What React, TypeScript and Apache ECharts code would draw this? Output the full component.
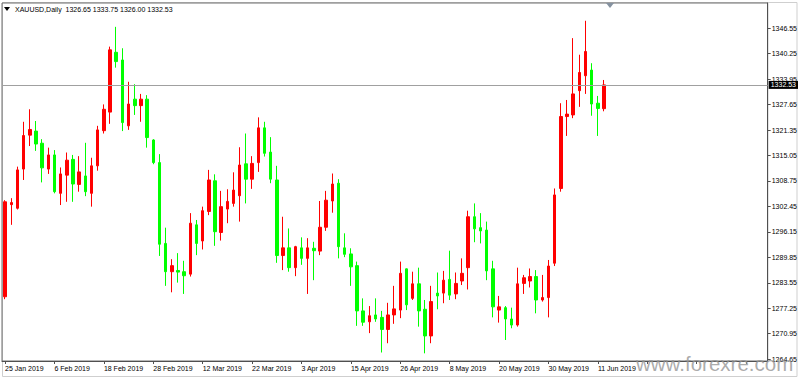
import React, { useEffect, useRef } from 'react';
import * as echarts from 'echarts';

const FONT = '"Liberation Sans", Arial, sans-serif';
const FS = 7;

const symbolTitle = 'XAUUSD,Daily';

const dates = [
  '25 Jan 2019', '28 Jan 2019', '29 Jan 2019', '30 Jan 2019', '31 Jan 2019', '1 Feb 2019', '4 Feb 2019', '5 Feb 2019',
  '6 Feb 2019', '7 Feb 2019', '8 Feb 2019', '11 Feb 2019', '12 Feb 2019', '13 Feb 2019', '14 Feb 2019', '15 Feb 2019',
  '18 Feb 2019', '19 Feb 2019', '20 Feb 2019', '21 Feb 2019', '22 Feb 2019', '25 Feb 2019', '26 Feb 2019', '27 Feb 2019',
  '28 Feb 2019', '1 Mar 2019', '4 Mar 2019', '5 Mar 2019', '6 Mar 2019', '7 Mar 2019', '8 Mar 2019', '11 Mar 2019',
  '12 Mar 2019', '13 Mar 2019', '14 Mar 2019', '15 Mar 2019', '18 Mar 2019', '19 Mar 2019', '20 Mar 2019', '21 Mar 2019',
  '22 Mar 2019', '25 Mar 2019', '26 Mar 2019', '27 Mar 2019', '28 Mar 2019', '29 Mar 2019', '1 Apr 2019', '2 Apr 2019',
  '3 Apr 2019', '4 Apr 2019', '5 Apr 2019', '8 Apr 2019', '9 Apr 2019', '10 Apr 2019', '11 Apr 2019', '12 Apr 2019',
  '15 Apr 2019', '16 Apr 2019', '17 Apr 2019', '18 Apr 2019', '22 Apr 2019', '23 Apr 2019', '24 Apr 2019', '25 Apr 2019',
  '26 Apr 2019', '29 Apr 2019', '30 Apr 2019', '1 May 2019', '2 May 2019', '3 May 2019', '6 May 2019', '7 May 2019',
  '8 May 2019', '9 May 2019', '10 May 2019', '13 May 2019', '14 May 2019', '15 May 2019', '16 May 2019', '17 May 2019',
  '20 May 2019', '21 May 2019', '22 May 2019', '23 May 2019', '24 May 2019', '27 May 2019', '28 May 2019', '29 May 2019',
  '30 May 2019', '31 May 2019', '3 Jun 2019', '4 Jun 2019', '5 Jun 2019', '6 Jun 2019', '7 Jun 2019', '10 Jun 2019',
  '11 Jun 2019', '12 Jun 2019',
];

const opens = [
  1280.1, 1302.9, 1302.0, 1311.7, 1320.1, 1321.1, 1318.1, 1311.7, 1315.2, 1305.7,
  1310.2, 1314.1, 1307.9, 1310.0, 1305.7, 1312.5, 1321.2, 1325.8, 1340.6, 1338.7,
  1322.4, 1329.0, 1327.4, 1329.0, 1318.9, 1313.3, 1293.3, 1286.3, 1286.6, 1286.3,
  1285.7, 1297.9, 1293.9, 1301.2, 1308.8, 1296.0, 1301.8, 1303.2, 1305.1, 1313.0,
  1309.2, 1313.3, 1321.9, 1315.9, 1309.0, 1290.3, 1292.2, 1287.3, 1292.2, 1289.6,
  1292.1, 1291.4, 1297.3, 1303.8, 1308.2, 1292.2, 1290.7, 1287.8, 1276.6, 1273.9,
  1275.6, 1275.0, 1272.0, 1275.6, 1276.8, 1287.0, 1279.7, 1283.3, 1277.0, 1270.4,
  1281.0, 1281.0, 1284.4, 1280.8, 1284.0, 1287.3, 1299.9, 1297.2, 1296.6, 1287.0,
  1276.8, 1277.4, 1274.6, 1273.1, 1283.4, 1284.0, 1285.1, 1279.3, 1279.9, 1288.4,
  1306.9, 1324.7, 1325.1, 1331.1, 1334.8, 1336.2, 1328.0, 1326.65,
];

const closes = [
  1303.6, 1303.4, 1311.5, 1320.0, 1321.5, 1317.9, 1312.0, 1315.2, 1306.1, 1310.5,
  1313.9, 1308.0, 1311.0, 1306.1, 1312.5, 1321.4, 1326.5, 1341.2, 1338.3, 1323.2,
  1327.8, 1327.4, 1329.0, 1319.5, 1313.3, 1293.1, 1286.3, 1287.8, 1286.2, 1285.3,
  1298.3, 1293.3, 1301.4, 1309.0, 1296.2, 1302.4, 1303.7, 1306.5, 1312.7, 1309.2,
  1313.1, 1321.9, 1315.6, 1309.2, 1290.3, 1292.2, 1287.3, 1292.5, 1289.6, 1292.2,
  1291.5, 1297.3, 1304.0, 1308.0, 1292.5, 1290.6, 1287.5, 1276.6, 1273.8, 1275.4,
  1274.6, 1272.0, 1275.6, 1277.1, 1285.9, 1278.1, 1283.3, 1276.6, 1270.4, 1278.9,
  1280.3, 1284.2, 1280.5, 1283.4, 1285.9, 1299.9, 1296.9, 1296.4, 1286.5, 1277.6,
  1277.6, 1274.6, 1273.1, 1283.3, 1284.8, 1285.1, 1279.3, 1279.9, 1287.7, 1305.3,
  1324.7, 1325.3, 1330.3, 1335.6, 1340.8, 1327.8, 1326.7, 1332.53,
];

const lows = [
  1279.5, 1297.9, 1301.7, 1309.0, 1317.4, 1316.2, 1308.4, 1310.5, 1305.7, 1302.8,
  1303.6, 1303.6, 1306.1, 1305.0, 1302.4, 1311.3, 1320.5, 1322.9, 1336.8, 1321.1,
  1321.4, 1325.1, 1323.4, 1317.0, 1312.9, 1290.2, 1282.8, 1281.2, 1283.6, 1280.8,
  1285.1, 1290.4, 1291.8, 1300.3, 1292.7, 1294.0, 1298.3, 1302.4, 1298.7, 1303.2,
  1306.8, 1311.0, 1314.8, 1308.2, 1288.5, 1286.7, 1286.3, 1285.2, 1288.0, 1280.8,
  1284.2, 1290.4, 1296.4, 1300.9, 1289.6, 1289.9, 1282.8, 1272.9, 1272.9, 1271.1,
  1273.9, 1266.3, 1268.6, 1273.4, 1274.8, 1276.8, 1279.3, 1272.7, 1266.1, 1268.6,
  1277.0, 1278.5, 1279.3, 1279.5, 1283.0, 1281.9, 1293.6, 1293.3, 1284.2, 1275.0,
  1273.7, 1269.4, 1272.3, 1272.7, 1280.8, 1282.4, 1276.0, 1278.9, 1275.0, 1287.7,
  1306.1, 1319.9, 1324.3, 1327.1, 1330.3, 1324.9, 1319.9, 1326.00,
];

const highs = [
  1304.0, 1304.5, 1312.3, 1323.4, 1326.5, 1323.6, 1319.1, 1317.0, 1316.4, 1312.1,
  1315.8, 1315.2, 1314.9, 1318.2, 1314.5, 1322.4, 1327.7, 1342.0, 1346.9, 1341.6,
  1333.3, 1332.7, 1330.3, 1330.0, 1319.1, 1315.4, 1297.2, 1289.4, 1290.9, 1289.0,
  1300.8, 1299.1, 1302.4, 1311.5, 1310.4, 1306.3, 1306.7, 1310.9, 1317.1, 1320.5,
  1314.9, 1324.5, 1323.4, 1319.6, 1312.5, 1299.9, 1297.0, 1292.7, 1294.8, 1294.6,
  1293.7, 1303.8, 1306.3, 1310.6, 1309.2, 1295.8, 1292.1, 1288.8, 1279.7, 1277.8,
  1279.7, 1276.6, 1278.6, 1282.8, 1288.8, 1287.1, 1286.3, 1287.3, 1279.3, 1282.8,
  1286.1, 1286.5, 1291.5, 1286.1, 1289.6, 1301.4, 1303.2, 1300.8, 1298.7, 1289.0,
  1280.3, 1277.8, 1277.4, 1287.3, 1285.5, 1287.1, 1286.7, 1285.5, 1289.2, 1306.9,
  1328.0, 1328.8, 1344.1, 1340.0, 1348.4, 1337.9, 1329.8, 1333.75,
];

const priceTicks = [
  1264.65, 1270.95, 1277.25, 1283.55, 1289.85, 1296.15, 1302.45,
  1308.75, 1315.05, 1321.35, 1327.65, 1333.95, 1340.25, 1346.55,
];

const shiftBars = 26;
const watermark = 'www.forexre.com';

export default function App() {
  const ref = useRef<HTMLDivElement>(null);
  useEffect(() => {
    if (!ref.current) return;
    const chart = echarts.init(ref.current, null, { renderer: 'svg' });
    const cats = dates.concat(new Array(shiftBars).fill(''));
    const data = opens.map((o, i) => [o, closes[i], lows[i], highs[i]]);
    const n = dates.length - 1;
    const header = `${symbolTitle}  ${opens[n].toFixed(2)} ${highs[n].toFixed(2)} ${lows[n].toFixed(2)} ${closes[n].toFixed(2)}`;
    const lastClose = closes[n];

    chart.setOption({
      animation: false,
      backgroundColor: '#ffffff',
      textStyle: { fontFamily: FONT },
      grid: {
        left: 2, right: 32, top: 3, bottom: 18,
        show: true, borderColor: '#6e6e6e', borderWidth: 1, backgroundColor: 'transparent',
      },
      xAxis: {
        type: 'category',
        data: cats,
        boundaryGap: true,
        axisLine: { show: true, lineStyle: { color: '#505050', width: 1 } },
        axisTick: { show: true, interval: 7, alignWithLabel: true, length: 3, lineStyle: { color: '#505050' } },
        axisLabel: {
          interval: 7, align: 'left', margin: 4, fontSize: FS, color: '#000',
          fontFamily: FONT, padding: [0, 0, 0, 0],
        },
        splitLine: { show: false },
      },
      yAxis: {
        type: 'value',
        position: 'right',
        min: 1264.2,
        max: 1352.8,
        axisLine: { show: true, onZero: false, lineStyle: { color: '#505050', width: 1 } },
        axisTick: { show: true, length: 3, customValues: priceTicks, lineStyle: { color: '#505050' } },
        axisLabel: {
          customValues: priceTicks, margin: 4, fontSize: FS, color: '#000', fontFamily: FONT,
          formatter: (v: number) => Number(v).toFixed(2),
        },
        splitLine: { show: false },
      },
      series: [
        {
          type: 'candlestick',
          data,
          barWidth: 3,
          itemStyle: {
            color: '#ff0000', color0: '#00ff00',
            borderColor: '#ff0000', borderColor0: '#00ff00', borderWidth: 1,
          },
          markLine: {
            silent: true,
            symbol: ['none', 'none'],
            lineStyle: { color: '#a0a0a0', width: 1, type: 'solid' },
            label: {
              show: true, position: 'end', distance: 1,
              formatter: () => lastClose.toFixed(2),
              backgroundColor: '#000', color: '#fff', fontSize: FS, fontFamily: FONT,
              padding: [1, 2, 0, 2],
            },
            data: [{ yAxis: lastClose }],
          },
        },
      ],
      graphic: [
        {
          type: 'rect', shape: { x: 2.5, y: 2.5, width: 794.5, height: 374 },
          style: { fill: 'none', stroke: '#cfcfcf', lineWidth: 1 }, z: -1, silent: true,
        },
        {
          type: 'polygon', shape: { points: [[4, 7], [10, 7], [7, 11]] },
          style: { fill: '#000' }, z: 10,
        },
        {
          type: 'text', x: 15, y: 9,
          style: { text: header, fill: '#000', fontSize: FS, fontFamily: FONT, verticalAlign: 'middle' },
          z: 10,
        },
        {
          type: 'polygon', shape: { points: [[606, 3], [614, 3], [610, 8]] },
          style: { fill: '#8592a0' }, z: 10,
        },
        {
          type: 'text', x: 636, y: 363,
          style: {
            text: watermark, fill: 'rgba(150,150,150,0.8)', fontSize: 20.5,
            fontFamily: FONT, verticalAlign: 'middle',
          },
          z: 20,
        },
      ],
    });
    return () => chart.dispose();
  }, []);
  return (
    <div
      ref={ref}
      style={{ position: 'fixed', left: 0, top: 0, width: 800, height: 379, background: '#fff' }}
    />
  );
}
